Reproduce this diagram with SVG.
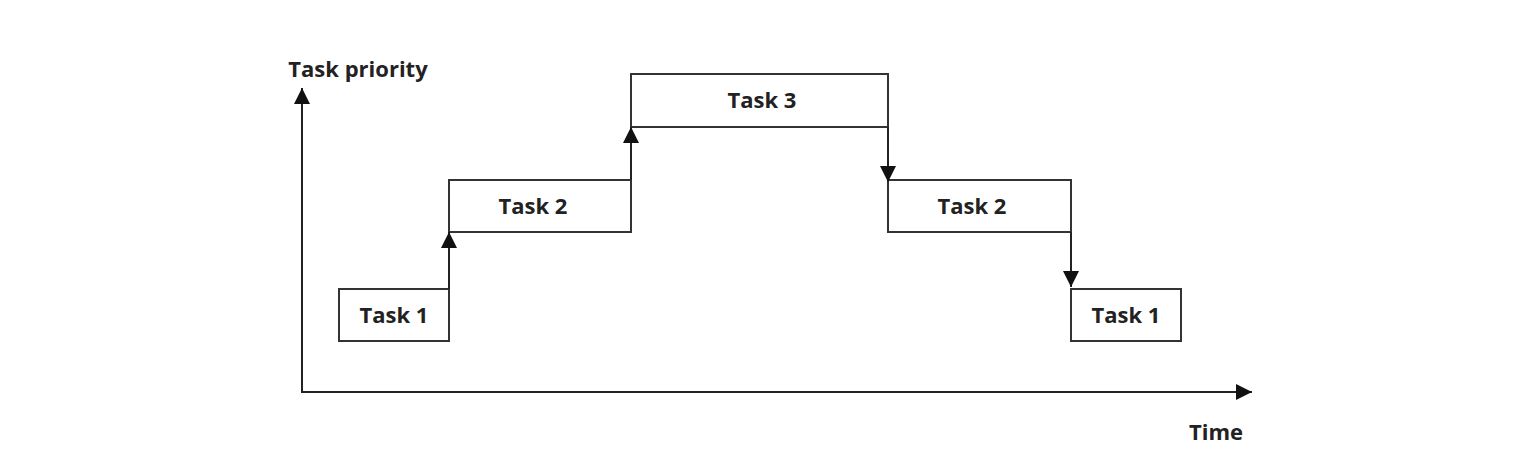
<svg xmlns="http://www.w3.org/2000/svg" width="1528" height="460" viewBox="0 0 1528 460">
<style>
.box{fill:#fff;stroke:#333;stroke-width:2}
.t{font-family:"Open Sans","Liberation Sans",sans-serif;font-weight:bold;font-size:22px;fill:#222;text-anchor:middle}
.c{stroke:#222;stroke-width:2;fill:none;marker-end:url(#a)}
</style>
<defs><marker id="a" viewBox="0 0 10 10" refX="10" refY="5" markerWidth="9" markerHeight="11" markerUnits="userSpaceOnUse" orient="auto"><path d="M0,0L10,5L0,10Z" fill="#111"/></marker>
<marker id="b" viewBox="0 0 10 10" refX="10" refY="5" markerWidth="22" markerHeight="16" markerUnits="userSpaceOnUse" orient="auto"><path d="M0,0L10,5L0,10Z" fill="#111"/></marker></defs>
<rect width="1528" height="460" fill="#fff"/>
<g id="axes">
<line x1="302" y1="392" x2="302" y2="88" stroke="#222" stroke-width="2" marker-end="url(#b)"/>
<line x1="301" y1="392" x2="1252" y2="392" stroke="#222" stroke-width="2" marker-end="url(#b)"/>
<text class="t" x="358" y="77">Task priority</text>
<text class="t" x="1216" y="440">Time</text>
</g>
<g id="task1a"><rect class="box" x="339" y="289" width="110" height="52"/><text class="t" x="394" y="323">Task 1</text></g>
<g id="task2a"><rect class="box" x="449" y="180" width="182" height="52"/><text class="t" x="533" y="214">Task 2</text></g>
<g id="task3"><rect class="box" x="631" y="74" width="257" height="53"/><text class="t" x="762" y="108">Task 3</text></g>
<g id="task2b"><rect class="box" x="888" y="180" width="183" height="52"/><text class="t" x="972" y="214">Task 2</text></g>
<g id="task1b"><rect class="box" x="1071" y="289" width="110" height="52"/><text class="t" x="1126" y="323">Task 1</text></g>
<g id="connectors" stroke="#222" stroke-width="2">
<line x1="449" y1="289" x2="449" y2="232" marker-end="url(#b)"/>
<line x1="631" y1="180" x2="631" y2="127" marker-end="url(#b)"/>
<line x1="888" y1="127" x2="888" y2="182" marker-end="url(#b)"/>
<line x1="1071" y1="232" x2="1071" y2="287" marker-end="url(#b)"/>
</g>
</svg>
